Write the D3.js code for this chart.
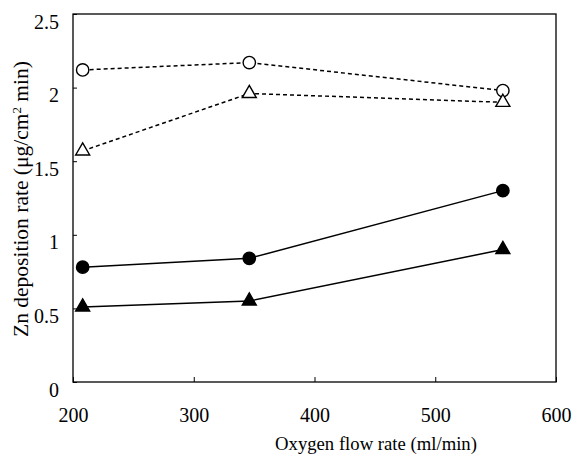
<!doctype html>
<html>
<head>
    <script src="https://d3js.org/d3.v7.min.js"></script>
    <style>
        body { margin: 0; background: #fff; }
        text { font-family: "Liberation Serif", "Times New Roman", serif; fill: #000; }
    </style>
</head>
<body>
<svg width="584" height="455"></svg>
<script>
    // oxygen flow rate (ml/min)
    var flow = [208, 346, 556];
    // Zn deposition rate, four series
    var openCircle = [2.12, 2.17, 1.98];
    var openTriangle = [1.57, 1.96, 1.90];
    var filledCircle = [0.78, 0.84, 1.30];
    var filledTriangle = [0.51, 0.55, 0.90];
    var xTicks = [200, 300, 400, 500, 600];
    var yTicks = [0, 0.5, 1, 1.5, 2, 2.5];

    var svg = d3.select("svg");
    var mLeft = 73, mRight = 556, mTop = 14, mBottom = 382;
    var serif = '"Liberation Serif", "Times New Roman", serif';

    var x = d3.scaleLinear().domain([200, 600]).range([mLeft, mRight]);
    var y = d3.scaleLinear().domain([0, 2.5]).range([mBottom, mTop]);

    // frame
    svg.append("rect")
        .attr("x", mLeft).attr("y", mTop)
        .attr("width", mRight - mLeft).attr("height", mBottom - mTop)
        .attr("fill", "none").attr("stroke", "#000").attr("stroke-width", 1.3);

    var xAxis = svg.append("g")
        .attr("transform", "translate(0," + mBottom + ")")
        .call(d3.axisBottom(x).tickValues(xTicks).tickSizeInner(-5).tickSizeOuter(0).tickPadding(26));
    xAxis.select(".domain").remove();
    xAxis.selectAll("text").style("font-size", "20px").style("font-family", serif);

    var yAxis = svg.append("g")
        .attr("transform", "translate(" + mLeft + ",0)")
        .call(d3.axisLeft(y).tickValues(yTicks).tickFormat(d3.format("")).tickSizeInner(-4).tickSizeOuter(0).tickPadding(14));
    yAxis.select(".domain").remove();
    yAxis.selectAll("text").style("font-size", "20px").style("font-family", serif).attr("dy", "0.7em");

    var series = [
        { v: openCircle, dash: "4,3", shape: "circle", fill: "#fff" },
        { v: openTriangle, dash: "4,3", shape: "triangle", fill: "#fff" },
        { v: filledCircle, dash: null, shape: "circle", fill: "#000" },
        { v: filledTriangle, dash: null, shape: "triangle", fill: "#000" }
    ];

    var line = d3.line()
        .x(function (d, i) { return x(flow[i]); })
        .y(function (d) { return y(d); });

    series.forEach(function (s) {
        svg.append("path")
            .attr("d", line(s.v))
            .attr("fill", "none")
            .attr("stroke", "#000")
            .attr("stroke-width", 1.5)
            .attr("stroke-dasharray", s.dash);
    });

    var circleSym = d3.symbol().type(d3.symbolCircle).size(120);
    var triSym = d3.symbol().type(d3.symbolTriangle).size(85);

    series.forEach(function (s) {
        svg.append("g").selectAll("path")
            .data(s.v)
            .enter()
                .append("path")
                .attr("transform", function (d, i) { return "translate(" + x(flow[i]) + "," + y(d) + ")"; })
                .attr("d", s.shape === "circle" ? circleSym : triSym)
                .attr("fill", s.fill)
                .attr("stroke", "#000")
                .attr("stroke-width", 1.4);
    });

    svg.append("text")
        .attr("x", 376)
        .attr("y", 450)
        .attr("text-anchor", "middle")
        .style("font-size", "18.7px")
        .text("Oxygen flow rate (ml/min)");

    var yt = svg.append("text")
        .attr("transform", "translate(28,199) rotate(-90)")
        .attr("text-anchor", "middle")
        .style("font-size", "21.5px");
    yt.append("tspan").text("Zn deposition rate (μg/cm");
    yt.append("tspan").attr("baseline-shift", "super").style("font-size", "13px").text("2");
    yt.append("tspan").text(" min)");
</script>
</body>
</html>
